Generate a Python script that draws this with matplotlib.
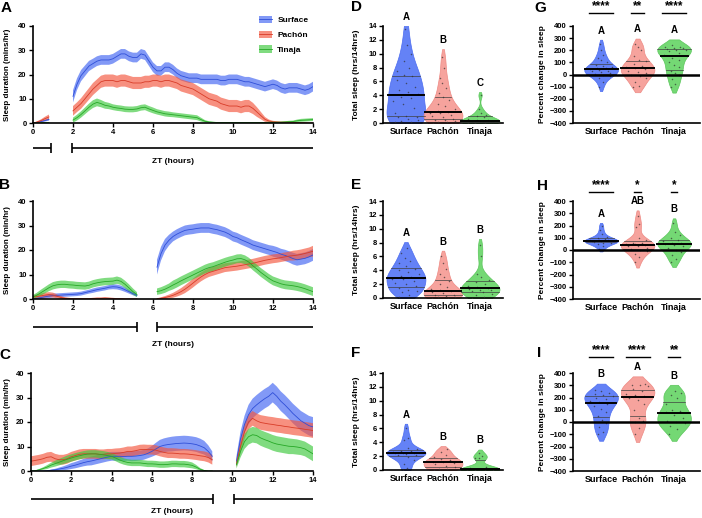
"""Sleep duration time courses (A-C) and per-population violins (D-I)."""

import numpy as np
import matplotlib

matplotlib.use("Agg")
import matplotlib.pyplot as plt
from matplotlib.lines import Line2D
from matplotlib.patches import Patch

nan = np.nan

plt.rcParams["font.family"] = ["Liberation Sans", "DejaVu Sans"]
plt.rcParams["font.weight"] = "bold"
plt.rcParams["axes.labelweight"] = "bold"

GROUPS = ["Surface", "Pachón", "Tinaja"]
ZT = np.round(np.arange(71) * 0.2, 1)  # 0.0, 0.2, ... 14.0

# ---- time courses: one row = one hour (x.0, x.2, x.4, x.6, x.8) ----
A_SURF = [0, 0.2, 0.6, 1.0, 1.5, nan, nan, nan, nan, nan,
          11, 16, 19.5, 21.5, 23.5, 24.5, 25.5, 26, 26, 26,
          26.5, 27.5, 28.5, 28.5, 27.5, 27, 27, 28.5, 28, 25.5,
          23, 21.5, 21.5, 23, 23, 22, 20.5, 19.5, 19, 18.5,
          18.5, 18.5, 18, 18, 18, 18, 18, 17.5, 17.5, 18,
          18, 18, 17.5, 17, 17, 16.5, 16, 15.5, 15, 15.5,
          16, 15.5, 14.5, 14, 14.5, 14.5, 14.5, 14, 13.5, 14, 15]
A_SURF_SEM = [0, 0.2, 0.3, 0.4, 0.5, nan, nan, nan, nan, nan,
              2.5, 2.4, 2.3, 2.2, 2.1, 2, 2, 2, 2, 2,
              2, 2, 2, 2, 2, 2, 2, 2, 2, 2,
              2, 2, 2, 2, 2, 2, 2, 2, 2, 2,
              2, 2, 2, 2, 2, 2, 2, 2, 2, 2,
              2, 2, 2, 2, 2, 2, 2, 2, 2, 2,
              2, 2, 2, 2, 2, 2, 2, 2, 2, 2, 2]
A_PACH = [0, 0.4, 1.0, 1.8, 2.5, nan, nan, nan, nan, nan,
          5, 6.5, 8, 10, 12, 14, 15.5, 17, 17.5, 17.5,
          17.5, 17, 17.5, 17.5, 17, 16.5, 16.5, 16.5, 17, 17,
          17.5, 17.5, 17, 17.5, 17.5, 17, 16.5, 15.5, 15, 14.5,
          14, 13, 12, 11, 10, 9.5, 9, 8, 7.5, 7,
          7, 7, 6.5, 7, 7, 6, 4.5, 3, 1.5, 0.8,
          0.5, 0.4, 0.3, 0.3, 0.3, 0.3, 0.2, 0.1, 0.1, 0, 0]
A_PACH_SEM = [0, 0.3, 0.5, 0.8, 1.0, nan, nan, nan, nan, nan,
              2, 2, 2.2, 2.3, 2.4, 2.5, 2.5, 2.5, 2.5, 2.5,
              2.5, 2.5, 2.5, 2.5, 2.5, 2.5, 2.5, 2.5, 2.5, 2.5,
              2.5, 2.5, 2.5, 2.5, 2.5, 2.5, 2.5, 2.5, 2.5, 2.5,
              2.5, 2.5, 2.5, 2.5, 2.5, 2.5, 2.5, 2.5, 2.5, 2.5,
              2.5, 2.5, 2.5, 2.5, 2.5, 2.3, 2, 1.5, 1, 0.6,
              0.4, 0.3, 0.3, 0.3, 0.3, 0.3, 0.2, 0.2, 0.1, 0.1, 0.1]
A_TIN = [0, 0, 0.1, 0.2, 0.2, nan, nan, nan, nan, nan,
         1.2, 2.2, 3.5, 5, 6.5, 7.8, 8.5, 8, 7.3, 7,
         6.5, 6.2, 6, 5.7, 5.6, 5.6, 5.8, 6.3, 6.5, 5.8,
         5.2, 4.6, 4.2, 3.8, 3.6, 3.4, 3.2, 3, 2.8, 2.6,
         2.4, 2.2, 1.4, 0.7, 0.4, 0.3, 0.2, 0.2, 0.2, 0.2,
         0.2, 0.2, 0.2, 0.2, 0.2, 0.2, 0.2, 0.2, 0.2, 0.3,
         0.3, 0.3, 0.3, 0.4, 0.5, 0.6, 0.9, 1.1, 1.2, 1.3, 1.4]
A_TIN_SEM = [0, 0, 0.1, 0.1, 0.1, nan, nan, nan, nan, nan,
             1, 1.2, 1.3, 1.4, 1.5, 1.6, 1.6, 1.5, 1.4, 1.3,
             1.2, 1.2, 1.2, 1.2, 1.2, 1.2, 1.2, 1.2, 1.2, 1.2,
             1.2, 1.1, 1.1, 1.1, 1.1, 1, 1, 1, 1, 1,
             1, 1, 0.8, 0.5, 0.3, 0.2, 0.2, 0.2, 0.2, 0.2,
             0.2, 0.2, 0.2, 0.2, 0.2, 0.2, 0.2, 0.2, 0.2, 0.2,
             0.2, 0.2, 0.3, 0.3, 0.4, 0.4, 0.5, 0.6, 0.6, 0.6, 0.6]

B_SURF = [0, 0.3, 0.6, 0.9, 1.2, 1.4, 1.5, 1.6, 1.7, 1.8,
          1.9, 2.0, 2.2, 2.6, 3.0, 3.4, 3.8, 4.1, 4.4, 4.8,
          5.0, 4.9, 4.5, 3.8, 3.0, 2.2, 1.5, nan, nan, nan,
          nan, 13, 18.5, 22, 24, 25.5, 26.5, 27.3, 28, 28.3,
          28.5, 28.8, 29, 29, 29, 28.6, 28.3, 27.8, 27.3, 26.5,
          25.5, 25, 24.2, 23.5, 22.8, 22, 21.5, 21, 20.5, 20,
          19.5, 19, 18.3, 17.8, 17.2, 16.5, 16, 16.3, 16.6, 17.2, 18]
B_SURF_SEM = [0.2, 0.4, 0.6, 0.7, 0.8, 0.8, 0.8, 0.8, 0.8, 0.8,
              0.8, 0.8, 0.8, 0.8, 0.8, 0.9, 0.9, 0.9, 0.9, 0.9,
              1, 1, 1, 0.9, 0.8, 0.7, 0.6, nan, nan, nan,
              nan, 3, 2.8, 2.5, 2.2, 2, 2, 2, 2, 2,
              2, 2, 2, 2, 2, 2, 2, 2, 2, 2,
              2, 2, 2, 2, 2, 2, 2, 2, 2, 2,
              2.2, 2.2, 2.2, 2.3, 2.3, 2.4, 2.4, 2.4, 2.4, 2.4, 2.4]
B_PACH = [0.8, 1.0, 1.3, 1.6, 1.8, 1.6, 1.1, 0.6, 0.3, 0.2,
          0.1, 0.1, 0.1, 0.1, 0.1, 0.2, 0.3, 0.3, 0.4, 0.3,
          0.2, 0.1, 0.1, 0, 0, 0, 0, nan, nan, nan,
          nan, 0.1, 0.3, 0.6, 1.0, 1.5, 2.2, 3.0, 4.0, 5.2,
          6.5, 7.8, 9.0, 10.0, 10.8, 11.3, 11.8, 12.3, 12.8, 13.0,
          13.2, 13.4, 13.7, 14.0, 14.3, 14.6, 15.0, 15.4, 15.8, 16.1,
          16.4, 16.6, 16.9, 17.2, 17.5, 17.7, 17.9, 18.2, 18.6, 19.0, 19.5]
B_PACH_SEM = [0.8, 0.9, 1, 1, 1, 1, 0.8, 0.6, 0.4, 0.3,
              0.2, 0.2, 0.2, 0.2, 0.2, 0.3, 0.3, 0.3, 0.3, 0.3,
              0.3, 0.2, 0.2, 0.1, 0.1, 0.1, 0.1, nan, nan, nan,
              nan, 0.2, 0.4, 0.6, 0.8, 1, 1.2, 1.4, 1.6, 1.7,
              1.8, 1.8, 1.8, 1.8, 1.8, 1.8, 1.8, 1.8, 1.8, 1.8,
              1.8, 1.8, 1.8, 1.8, 1.8, 1.8, 1.8, 1.8, 1.8, 1.8,
              1.8, 1.8, 1.8, 1.8, 1.8, 2, 2, 2, 2, 2, 2.2]
B_TIN = [0.8, 1.6, 2.6, 3.6, 4.6, 5.4, 5.8, 6.0, 6.0, 5.8,
         5.7, 5.5, 5.4, 5.3, 5.6, 6.2, 6.6, 6.9, 7.1, 7.2,
         7.3, 7.7, 7.2, 6.0, 4.5, 3.0, 1.8, nan, nan, nan,
         nan, 3.0, 3.4, 4.0, 4.8, 5.7, 6.5, 7.4, 8.2, 9.0,
         9.8, 10.6, 11.4, 12.2, 12.8, 13.2, 13.8, 14.4, 15.0, 15.5,
         15.9, 16.4, 16.5, 16.0, 15.0, 13.5, 12.2, 10.8, 9.6, 8.4,
         7.4, 6.8, 6.2, 5.8, 5.6, 5.4, 5.1, 4.7, 4.2, 3.6, 3.0]
B_TIN_SEM = [0.8, 1, 1.2, 1.3, 1.4, 1.5, 1.5, 1.5, 1.5, 1.5,
             1.5, 1.5, 1.5, 1.5, 1.5, 1.5, 1.5, 1.5, 1.5, 1.5,
             1.5, 1.5, 1.5, 1.5, 1.5, 1.3, 1, nan, nan, nan,
             nan, 1.3, 1.4, 1.5, 1.5, 1.8, 1.8, 1.8, 1.8, 1.8,
             1.8, 1.8, 1.8, 1.8, 1.8, 1.8, 1.8, 1.8, 1.8, 1.8,
             1.8, 1.8, 1.8, 1.8, 1.8, 1.8, 1.8, 1.8, 1.8, 1.8,
             1.8, 1.8, 1.8, 1.8, 1.8, 1.8, 1.8, 1.8, 1.8, 1.8, 1.8]

C_SURF = [0, 0, 0, 0, 0.1, 0.3, 0.5, 0.8, 1.1, 1.5,
          2.0, 2.4, 2.9, 3.4, 3.8, 4.1, 4.5, 4.9, 5.3, 5.7,
          6.0, 6.0, 6.0, 5.9, 6.0, 6.0, 6.1, 6.3, 6.6, 7.2,
          8.0, 9.0, 10.0, 10.5, 10.8, 11.0, 11.2, 11.3, 11.4, 11.3,
          11.1, 10.8, 10.2, 9.5, 8.0, 6.0, nan, nan, nan, nan,
          nan, 4, 13, 19, 23, 25.5, 27, 28.3, 29.5, 30.5,
          32, 30.5, 28.5, 27, 25.3, 23.5, 22, 20.5, 19.5, 18.5, 18]
C_SURF_SEM = [0, 0, 0, 0, 0.1, 0.3, 0.4, 0.6, 0.8, 1.0,
              1.2, 1.3, 1.4, 1.5, 1.6, 1.8, 1.8, 1.8, 1.8, 1.8,
              1.8, 1.8, 1.8, 1.8, 1.8, 2, 2, 2, 2, 2,
              2.2, 2.5, 2.7, 2.8, 2.9, 3, 3, 3, 3, 3,
              3, 3, 3, 2.8, 2.5, 2, nan, nan, nan, nan,
              nan, 2, 3, 3.5, 4, 4, 4, 4, 4, 4,
              4, 4, 4, 4, 4, 4, 4, 4, 4, 4, 4]
C_PACH = [4.0, 4.3, 4.6, 5.0, 5.6, 5.8, 5.0, 4.6, 4.6, 5.0,
          5.8, 6.3, 6.8, 7.0, 7.0, 7.0, 7.0, 6.8, 6.8, 7.0,
          7.0, 7.2, 7.3, 7.6, 8.0, 8.0, 8.3, 8.7, 8.8, 8.7,
          8.7, 8.5, 8.0, 7.6, 7.3, 7.3, 7.2, 7.0, 7.0, 6.9,
          6.7, 6.5, 6.2, 6.0, 5.5, 4.6, nan, nan, nan, nan,
          nan, 3, 10, 16, 20, 21.5, 20.5, 19.8, 19.5, 19.2,
          19, 18.7, 18.5, 18.2, 18, 17.7, 17.5, 17.3, 17, 16.8, 16.5]
C_PACH_SEM = [2, 2, 2, 2, 2, 2, 2, 2, 2, 2,
              2, 2, 2, 2, 2, 2, 2, 2, 2, 2,
              2, 2, 2, 2, 2, 2, 2, 2, 2, 2,
              2, 2, 2, 2, 2, 2, 2, 2, 2, 2,
              2, 2, 2, 2, 2, 2, nan, nan, nan, nan,
              nan, 1.5, 2.5, 3, 3, 3, 3, 3, 3, 3,
              3, 3, 3, 3, 3, 3, 3, 3, 3, 3, 3]
C_TIN = [0, 0.1, 0.5, 1.0, 1.6, 2.4, 3.0, 3.6, 4.2, 4.8,
         5.3, 5.8, 6.2, 6.6, 6.9, 7.0, 7.0, 6.8, 6.6, 6.3,
         6.0, 5.3, 4.5, 3.9, 3.5, 3.3, 3.3, 3.3, 3.1, 2.9,
         2.9, 2.8, 2.6, 2.6, 2.7, 2.9, 2.9, 2.8, 2.8, 2.6,
         2.3, 1.6, 0.7, 0.2, 0, 0, nan, nan, nan, nan,
         nan, 2.5, 8, 12, 14, 14.8, 14.5, 13.5, 12.8, 12.2,
         11.5, 11.0, 10.7, 10.4, 10.1, 10.0, 9.8, 9.5, 9.0, 8.0, 7.0]
C_TIN_SEM = [0, 0.1, 0.3, 0.5, 0.8, 1, 1.2, 1.3, 1.4, 1.5,
             1.5, 1.5, 1.5, 1.5, 1.5, 1.5, 1.5, 1.5, 1.5, 1.5,
             1.3, 1.3, 1.3, 1.3, 1.3, 1.3, 1.3, 1.3, 1.3, 1.3,
             1.3, 1.3, 1.3, 1.3, 1.3, 1.3, 1.3, 1.3, 1.3, 1.3,
             1.2, 0.9, 0.5, 0.2, 0, 0, nan, nan, nan, nan,
             nan, 1.5, 2.5, 3, 3.2, 3.2, 3.2, 3.2, 3.2, 3.2,
             3.2, 3.2, 3.2, 3.2, 3.2, 3.1, 3.1, 3.0, 3.0, 3.0, 3.0]

# recording blocks drawn as brackets under each time course (ZT hours)
A_BLOCKS = [(0, 0.9), (1.95, 14)]
B_BLOCKS = [(0, 5.2), (6.2, 14)]
C_BLOCKS = [(0, 9.05), (10.1, 14)]

# ---- total sleep (hrs/14hrs), one list per population ----
D_SLEEP = [
    [0.1, 0.2, 0.3, 0.5, 0.6, 0.8, 0.9, 1.0, 1.5, 2.2, 2.8, 3.2, 3.6, 3.8,
     4.2, 4.5, 4.8, 5.2, 5.8, 6.2, 6.8, 7.0, 7.5, 8.0, 9.0, 10.0, 11.2, 13.5],
    [0, 0.1, 0.2, 0.3, 0.4, 0.5, 0.6, 0.8, 1.0, 1.2, 1.4, 1.5, 1.6, 1.8, 2.0,
     2.4, 2.8, 3.3, 3.8, 4.3, 5.0, 5.8, 6.5, 8.0, 9.5],
    [0, 0, 0.05, 0.1, 0.1, 0.2, 0.2, 0.3, 0.3, 0.4, 0.5, 0.6, 0.8, 1.0, 1.2,
     1.5, 2.0, 4.0],
]
E_SLEEP = [
    [0.2, 0.5, 0.8, 1.0, 1.2, 1.4, 1.7, 2.0, 2.2, 2.5, 2.7, 2.8, 3.0, 3.2,
     3.5, 3.8, 4.0, 4.2, 4.6, 5.0, 5.4, 5.8, 6.5, 7.2],
    [0, 0.05, 0.1, 0.2, 0.3, 0.4, 0.5, 0.7, 0.8, 1.0, 1.1, 1.3, 1.6, 2.0,
     2.5, 3.0, 3.5, 4.2, 5.0, 6.0],
    [0, 0.2, 0.4, 0.6, 0.8, 1.0, 1.1, 1.2, 1.3, 1.4, 1.6, 1.8, 2.0, 2.3,
     2.6, 3.0, 3.4, 6.0, 7.6],
]
F_SLEEP = [
    [0, 0.3, 0.8, 1.5, 1.9, 2.1, 2.2, 2.3, 2.4, 2.5, 2.5, 2.6, 2.7, 2.8,
     3.0, 3.2, 4.4, 4.6, 6.0],
    [0, 0.1, 0.2, 0.4, 0.6, 0.8, 1.0, 1.1, 1.2, 1.4, 1.6, 1.9, 2.2, 2.6, 3.0],
    [0, 0, 0, 0.05, 0.1, 0.1, 0.15, 0.2, 0.3, 0.5, 1.7, 1.8, 2.0, 2.5],
]

# ---- percent change in sleep ----
G_CHANGE = [
    [-100, -60, -30, -10, 0, 5, 10, 20, 25, 30, 40, 45, 50, 55, 60, 70, 80,
     100, 120, 140, 160, 200, 250],
    [-100, -95, -60, -30, -10, 0, 10, 20, 30, 45, 55, 60, 70, 90, 110, 120,
     150, 200, 230, 250],
    [-100, -80, -40, 0, 10, 30, 60, 80, 100, 120, 140, 160, 180, 195, 200,
     205, 210, 215, 220, 225, 230, 240],
]
H_CHANGE = [
    [10, 30, 45, 55, 60, 65, 70, 72, 75, 78, 80, 85, 90, 100, 110, 130, 160, 200],
    [-100, -60, -30, -10, 0, 10, 20, 30, 35, 40, 45, 50, 55, 60, 80, 100,
     190, 210, 280],
    [-100, -70, -40, -20, 0, 20, 30, 40, 50, 55, 60, 70, 80, 100, 120, 150, 220],
]
I_CHANGE = [
    [-100, -80, -40, -10, 20, 50, 80, 110, 130, 150, 160, 170, 190, 200, 210,
     220, 230, 240, 250, 260],
    [-100, -50, 0, 10, 30, 100, 150, 180, 200, 210, 220, 230, 250, 270, 290,
     300, 300, 310],
    [-100, -60, -30, -10, 0, 10, 30, 60, 80, 90, 100, 150, 200, 220, 240, 250],
]

D_LETTERS = ["A", "B", "C"]
E_LETTERS = ["A", "B", "B"]
F_LETTERS = ["A", "B", "B"]
G_LETTERS = ["A", "A", "A"]
H_LETTERS = ["A", "AB", "B"]
I_LETTERS = ["B", "A", "B"]
G_STARS = ["****", "**", "****"]
H_STARS = ["****", "*", "*"]
I_STARS = ["****", "****", "**"]

BAND = ["#3f63f2", "#f4553c", "#3cc83c"]
LINE = ["#2f4fd8", "#d83c28", "#27a827"]
VIOLIN = ["#6482f6", "#f6a39d", "#74d874"]
VIOLIN_EDGE = ["#4c6cf0", "#ee8a84", "#5cc65c"]

W, H = 702, 518


def px_axes(fig, x0, y0, x1, y1):
    return fig.add_axes([x0 / W, 1 - y1 / H, (x1 - x0) / W, (y1 - y0) / H])


def style(ax):
    for side in ("top", "right"):
        ax.spines[side].set_visible(False)
    for side in ("left", "bottom"):
        ax.spines[side].set_linewidth(1.2)
    ax.tick_params(direction="out", length=3, width=1, labelsize=5.5, pad=1.5)


def time_course(ax, series, blocks, ylabel, bracket_y, zt_y):
    style(ax)
    for i, (mean, sem) in enumerate(series):
        m = np.array(mean, float)
        s = np.array(sem, float)
        ax.fill_between(ZT, np.clip(m - s, 0, None), m + s, color=BAND[i], alpha=0.65, lw=0)
        ax.plot(ZT, m, color=LINE[i], lw=0.6)
    ax.set_xlim(0, 14)
    ax.set_ylim(0, 40)
    ax.set_xticks(range(0, 15, 2))
    ax.set_yticks(range(0, 41, 10))
    ax.set_ylabel(ylabel, fontsize=5.8)
    ax.yaxis.set_label_coords(-0.079, 0.5)

    tr = ax.get_xaxis_transform()
    (a0, a1), (b0, b1) = blocks
    kw = dict(color="black", lw=1.2, transform=tr, clip_on=False, solid_capstyle="butt")
    ax.plot([a0, a1], [bracket_y, bracket_y], **kw)
    ax.plot([b0, b1], [bracket_y, bracket_y], **kw)
    ax.plot([a1, a1], [bracket_y - 0.05, bracket_y + 0.05], **kw)
    ax.plot([b0, b0], [bracket_y - 0.05, bracket_y + 0.05], **kw)
    ax.text(7, zt_y, "ZT (hours)", transform=tr, ha="center", va="center", fontsize=6)


def density(values, floor=None, ceiling=None):
    v = np.asarray(values, float)
    bw = 0.85 * v.std(ddof=1) * len(v) ** (-0.2)
    lo, hi = v.min() - bw, v.max() + bw
    if floor is not None:
        lo = max(lo, floor)
    if ceiling is not None:
        hi = min(hi, ceiling)
    coords = np.linspace(lo, hi, 300)
    dens = np.exp(-0.5 * ((coords[:, None] - v[None, :]) / bw) ** 2).sum(axis=1)
    return coords, dens / dens.max()


def violins(ax, groups, letters, width, floor=None, ceiling=None):
    style(ax)
    for i, vals in enumerate(groups):
        coords, dens = density(vals, floor, ceiling)
        half = dens * width / 2
        ax.fill_betweenx(coords, i - half, i + half, facecolor=VIOLIN[i],
                         edgecolor=VIOLIN_EDGE[i], lw=0.5, zorder=2)

        def hw(y):
            return np.interp(y, coords, half)

        q1, med, q3 = np.percentile(vals, [25, 50, 75])
        for q in (q1, q3):
            ax.plot([i - hw(q), i + hw(q)], [q, q], color="#404040", lw=0.5, zorder=3)
        ax.plot([i - hw(med), i + hw(med)], [med, med], color="black", lw=1.4, zorder=4)

        for k, y in enumerate(vals):
            frac = ((k * 7) % 11) / 10 - 0.5
            ax.plot(i + frac * 1.4 * hw(y), y, "o", ms=1.1, color="#303030",
                    alpha=0.7, mec="none", zorder=3)

        ax.annotate(letters[i], (i, coords.max()), xytext=(0, 3), textcoords="offset points",
                    ha="center", va="bottom", fontsize=7, annotation_clip=False)
    ax.set_xticks(range(3))
    ax.set_xticklabels(GROUPS, fontsize=6.5)
    ax.tick_params(axis="x", length=0, pad=3)


def total_sleep(ax, groups, letters):
    violins(ax, groups, letters, width=1.05, floor=0, ceiling=14)
    ax.set_xlim(-0.62, 2.62)
    ax.set_ylim(0, 14)
    ax.set_yticks(range(0, 15, 2))
    ax.set_ylabel("Total sleep (hrs/14hrs)", fontsize=6)
    ax.yaxis.set_label_coords(-0.19, 0.5)


def percent_change(ax, groups, letters, stars, bar_y, star_y):
    violins(ax, groups, letters, width=0.92)
    ax.axhline(0, color="black", lw=1.8, zorder=5)
    ax.set_xlim(-0.77, 2.71)
    ax.set_ylim(-400, 400)
    ax.set_yticks(range(-400, 401, 100))
    ax.set_ylabel("Percent change in sleep", fontsize=6)
    ax.yaxis.set_label_coords(-0.213, 0.5)
    tr = ax.get_xaxis_transform()
    for i, s in enumerate(stars):
        half = 0.08 * len(s) + 0.01
        ax.plot([i - half, i + half], [bar_y, bar_y], color="black", lw=1.0,
                transform=tr, clip_on=False)
        ax.text(i, star_y, s, transform=tr, ha="center", va="center", fontsize=8.5)


fig = plt.figure(figsize=(W / 100, H / 100), dpi=100)

ax_a = px_axes(fig, 33, 26, 313, 123)
time_course(ax_a, [(A_SURF, A_SURF_SEM), (A_PACH, A_PACH_SEM), (A_TIN, A_TIN_SEM)],
            A_BLOCKS, "Sleep duration (mins/hr)", -0.258, -0.40)
handles = [(Patch(facecolor=BAND[i], alpha=0.65, lw=0), Line2D([], [], color=LINE[i], lw=0.6))
           for i in range(3)]
ax_a.legend(handles, GROUPS, loc="upper left", bbox_to_anchor=(0.795, 1.14), frameon=False,
            fontsize=6, handlelength=1.6, handleheight=1.0, labelspacing=0.75,
            handletextpad=0.6, borderaxespad=0)

ax_b = px_axes(fig, 33, 201, 313, 299)
time_course(ax_b, [(B_SURF, B_SURF_SEM), (B_PACH, B_PACH_SEM), (B_TIN, B_TIN_SEM)],
            B_BLOCKS, "Sleep duration (min/hr)", -0.286, -0.46)

ax_c = px_axes(fig, 31, 373, 313, 471)
time_course(ax_c, [(C_SURF, C_SURF_SEM), (C_PACH, C_PACH_SEM), (C_TIN, C_TIN_SEM)],
            C_BLOCKS, "Sleep duration (min/hr)", -0.286, -0.418)
ax_c.yaxis.set_label_coords(-0.071, 0.5)

ax_d = px_axes(fig, 383, 26, 503, 123)
total_sleep(ax_d, D_SLEEP, D_LETTERS)
ax_e = px_axes(fig, 383, 201, 503, 298)
total_sleep(ax_e, E_SLEEP, E_LETTERS)
ax_f = px_axes(fig, 383, 373, 503, 470)
total_sleep(ax_f, F_SLEEP, F_LETTERS)

ax_g = px_axes(fig, 573, 26, 700, 123)
percent_change(ax_g, G_CHANGE, G_LETTERS, G_STARS, 1.134, 1.2)
ax_h = px_axes(fig, 573, 201, 700, 299)
percent_change(ax_h, H_CHANGE, H_LETTERS, H_STARS, 1.092, 1.163)
ax_i = px_axes(fig, 573, 373, 700, 471)
percent_change(ax_i, I_CHANGE, I_LETTERS, I_STARS, 1.163, 1.235)

for letter, x, y in [("A", 6, 8), ("B", 5, 185), ("C", 5, 355), ("D", 356, 7),
                     ("E", 356, 185), ("F", 356, 353), ("G", 540, 8),
                     ("H", 542, 186), ("I", 539, 353)]:
    fig.text(x / W, 1 - y / H, letter, ha="center", va="center", fontsize=11,
             fontweight="bold")

fig.savefig("out.png", dpi=100)
